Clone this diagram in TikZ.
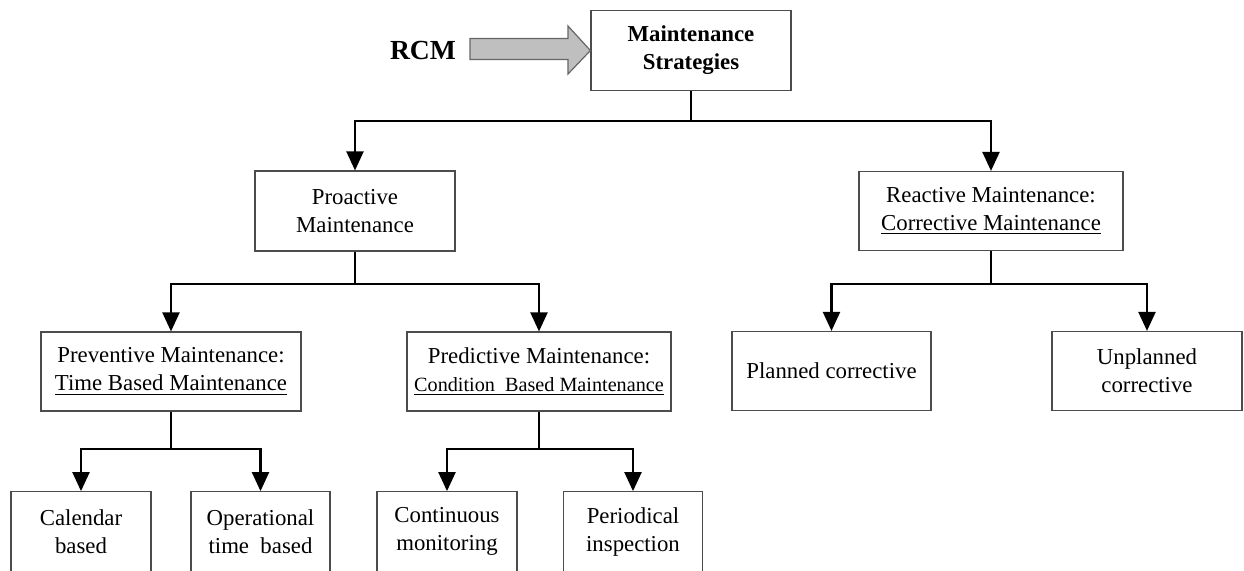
\documentclass[tikz,border=0pt]{standalone}
\usepackage{fontspec}
\setmainfont{Liberation Serif}
\usetikzlibrary{arrows.meta}
\begin{document}
\begin{tikzpicture}[x=0.5pt,y=-0.5pt,
  box/.style={draw=black!70,line width=0.6pt,rectangle,inner sep=0pt,align=center,
    font=\fontsize{11.4}{14}\selectfont},
  conn/.style={line width=1.1pt,-{Triangle[length=9.5pt,width=8.5pt]}},
  stem/.style={line width=1.1pt}]
\useasboundingbox (0,0) rectangle (1244,570);
\clip (0,0) rectangle (1244,570);

% top of the hierarchy
\node[box,minimum width=100pt,minimum height=40pt,
      font=\fontsize{11.4}{14}\selectfont\bfseries] (ms) at (691,50.5) {Maintenance\\Strategies};
\node[font=\fontsize{13.8}{16}\selectfont\bfseries] (rcm) at (423,50) {RCM};
% block arrow feeding the strategies box
\draw[draw=black!60,fill=black!25,line width=0.6pt]
  (470,38.5) -- (568,38.5) -- (568,26) -- (ms.west) -- (568,74) -- (568,59.5) -- (470,59.5) -- cycle;

% second level
\node[box,minimum width=100pt,minimum height=40pt] (pro) at (355,211) {Proactive\\Maintenance};
\node[box,minimum width=132pt,minimum height=39.5pt] (rea) at (991,211)
  {Reactive Maintenance:\\\underline{Corrective Maintenance}};

% third level
\node[box,minimum width=130pt,minimum height=39.5pt] (pre) at (171,371.5)
  {Preventive Maintenance:\\\underline{Time Based Maintenance}};
\node[box,minimum width=132pt,minimum height=39.5pt] (prd) at (539,371.5)
  {Predictive Maintenance:\\{\fontsize{10.1}{14}\selectfont\underline{Condition\ \ Based Maintenance}}};
\node[box,minimum width=99.5pt,minimum height=39.5pt] (pla) at (831.5,371) {Planned corrective};
\node[box,minimum width=95pt,minimum height=39.5pt] (unp) at (1147,371) {Unplanned\\corrective};

% fourth level
\node[box,minimum width=70pt,minimum height=40pt] (cal) at (81,531.7) {Calendar\\based};
\node[box,minimum width=69.5pt,minimum height=40pt] (opt) at (260.5,531.7) {Operational\\time\ \ based};
\node[box,minimum width=70pt,minimum height=40pt] (con) at (447,531.7) {Continuous\\monitoring};
\node[box,minimum width=69.5pt,minimum height=40pt] (per) at (633,531.7) {Periodical\\inspection};

% branch points
\coordinate (j0) at (691,121);
\coordinate (j1) at (355,284);
\coordinate (j4) at (991,284);
\coordinate (j2) at (171,449);
\coordinate (j3) at (539,449);

\draw[stem] (ms.south) -- (j0);
\draw[conn] (j0) -| (pro.north);
\draw[conn] (j0) -| (rea.north);

\draw[stem] (pro.south) -- (j1);
\draw[conn] (j1) -| (pre.north);
\draw[conn] (j1) -| (prd.north);

\draw[stem] (rea.south) -- (j4);
\draw[conn] (j4) -| (pla.north);
\draw[conn] (j4) -| (unp.north);

\draw[stem] (pre.south) -- (j2);
\draw[conn] (j2) -| (cal.north);
\draw[conn] (j2) -| (opt.north);

\draw[stem] (prd.south) -- (j3);
\draw[conn] (j3) -| (con.north);
\draw[conn] (j3) -| (per.north);
\end{tikzpicture}
\end{document}
